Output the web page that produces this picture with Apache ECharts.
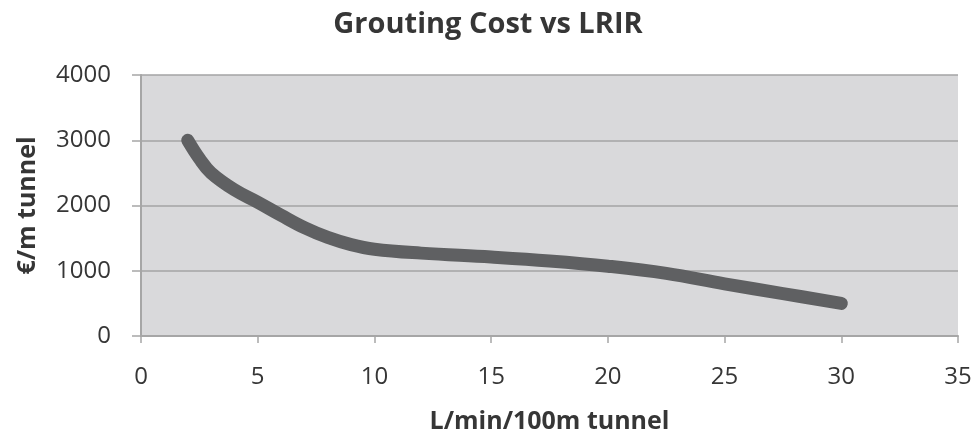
<!DOCTYPE html>
<html>
<head>
<meta charset="utf-8">
<script src="https://cdn.jsdelivr.net/npm/echarts@6/dist/echarts.min.js"></script>
<style>html,body{margin:0;padding:0;background:#fff}#c{width:976px;height:436px}</style>
</head>
<body>
<div id="c"></div>
<script>
const titleText = "Grouting Cost vs LRIR";
const xName = "L/min/100m tunnel";
const yName = "€/m tunnel";
const lrir = [2, 2.5, 3, 4, 5, 6, 7, 8, 9, 10, 12, 15, 17.5, 20, 22.5, 25, 27.5, 30];
const cost = [3000, 2720, 2500, 2240, 2050, 1850, 1660, 1510, 1400, 1330, 1270, 1210, 1150, 1070, 960, 800, 650, 500];

const chart = echarts.init(document.getElementById('c'));
const font = '"Open Sans", sans-serif';
const txt = '#363636';
chart.setOption({
  animation: false,
  backgroundColor: '#fff',
  title: {
    text: titleText, left: 'center', top: 5,
    textStyle: { fontFamily: font, fontSize: 29, fontWeight: 'bold', color: txt }
  },
  grid: { left: 141, right: 18, top: 75, bottom: 100, outerBoundsMode: 'none', containLabel: false, show: true, backgroundColor: '#d9d9db', borderWidth: 0 },
  xAxis: {
    type: 'value', min: 0, max: 35, interval: 5,
    name: xName, nameLocation: 'middle', nameGap: 73,
    nameTextStyle: { fontFamily: font, fontSize: 25, fontWeight: 'bold', color: txt },
    axisLine: { show: true, lineStyle: { color: '#a6a6a6', width: 2 } },
    axisTick: { show: true, length: 7, lineStyle: { color: '#a6a6a6', width: 1.5 } },
    axisLabel: { fontFamily: font, fontSize: 24, color: txt, margin: 29, formatter: v => String(v) },
    splitLine: { show: false }
  },
  yAxis: {
    type: 'value', min: 0, max: 4000, interval: 1000,
    name: yName, nameLocation: 'middle', nameGap: 101, nameRotate: 90,
    nameTextStyle: { fontFamily: font, fontSize: 25, fontWeight: 'bold', color: txt },
    axisLine: { show: true, lineStyle: { color: '#a6a6a6', width: 2 } },
    axisTick: { show: true, length: 9, lineStyle: { color: '#a6a6a6', width: 1.5 } },
    axisLabel: { fontFamily: font, fontSize: 24, color: txt, margin: 30, formatter: v => String(v) },
    splitLine: { show: true, lineStyle: { color: '#a3a3a5', width: 1.5 } }
  },
  series: [{
    type: 'line',
    data: lrir.map((x, i) => [x, cost[i]]),
    smooth: 0.4,
    showSymbol: false,
    lineStyle: { color: '#5f6062', width: 13, cap: 'round', join: 'round' }
  }]
});
</script>
</body>
</html>
